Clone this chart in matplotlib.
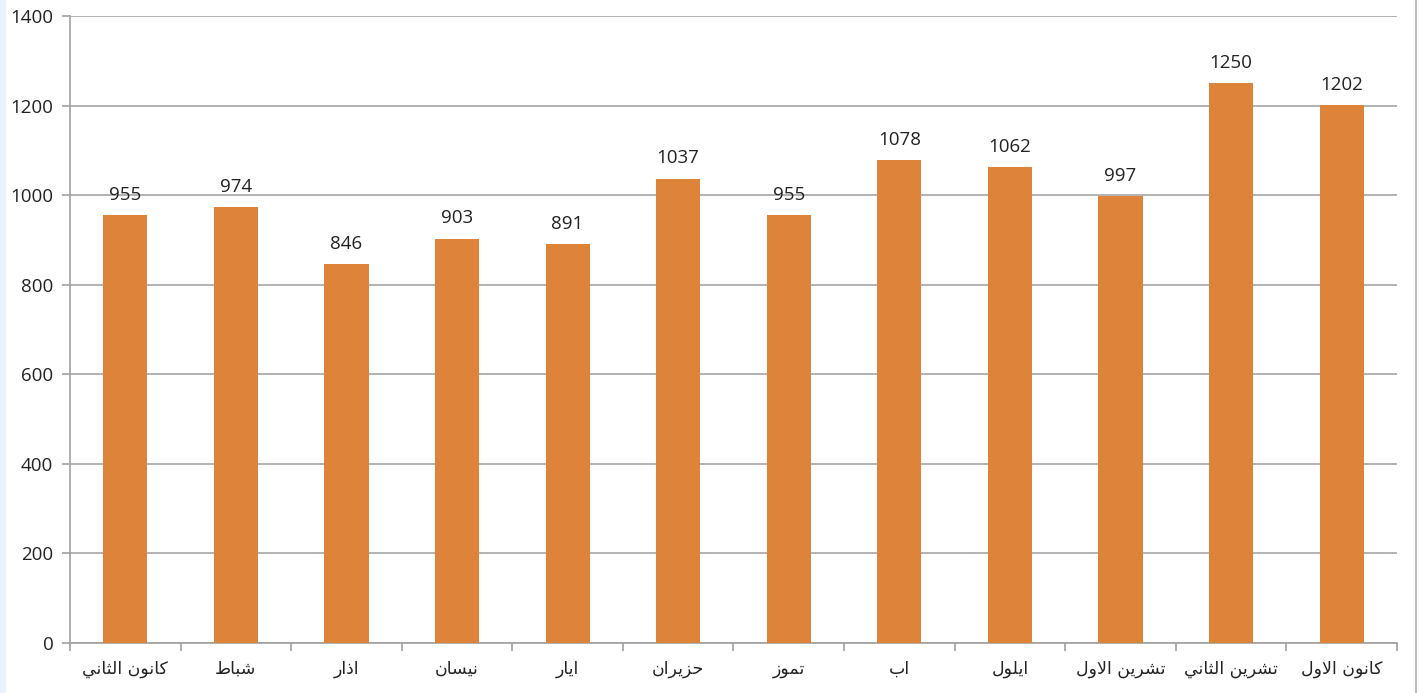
import matplotlib
matplotlib.use("Agg")
import matplotlib.pyplot as plt
import numpy as np

months = ["كانون الثاني", "شباط", "اذار", "نيسان", "ايار", "حزيران",
          "تموز", "اب", "ايلول", "تشرين الاول", "تشرين الثاني", "كانون الاول"]
values = [955, 974, 846, 903, 891, 1037, 955, 1078, 1062, 997, 1250, 1202]
yticks = [0, 200, 400, 600, 800, 1000, 1200, 1400]

# Minimal Arabic shaping (presentation forms) since matplotlib has no shaping
FORMS = {  # iso, final, initial, medial
    'ا': (0xFE8D, 0xFE8E, None, None),
    'ب': (0xFE8F, 0xFE90, 0xFE91, 0xFE92),
    'ت': (0xFE95, 0xFE96, 0xFE97, 0xFE98),
    'ث': (0xFE99, 0xFE9A, 0xFE9B, 0xFE9C),
    'ح': (0xFEA1, 0xFEA2, 0xFEA3, 0xFEA4),
    'ذ': (0xFEAB, 0xFEAC, None, None),
    'ر': (0xFEAD, 0xFEAE, None, None),
    'ز': (0xFEAF, 0xFEB0, None, None),
    'س': (0xFEB1, 0xFEB2, 0xFEB3, 0xFEB4),
    'ش': (0xFEB5, 0xFEB6, 0xFEB7, 0xFEB8),
    'ط': (0xFEC1, 0xFEC2, 0xFEC3, 0xFEC4),
    'ك': (0xFED9, 0xFEDA, 0xFEDB, 0xFEDC),
    'ل': (0xFEDD, 0xFEDE, 0xFEDF, 0xFEE0),
    'م': (0xFEE1, 0xFEE2, 0xFEE3, 0xFEE4),
    'ن': (0xFEE5, 0xFEE6, 0xFEE7, 0xFEE8),
    'و': (0xFEED, 0xFEEE, None, None),
    'ي': (0xFEF1, 0xFEF2, 0xFEF3, 0xFEF4),
}


def dual(c):
    return c in FORMS and FORMS[c][2] is not None


def shape(text):
    chars = []
    i = 0
    while i < len(text):
        if text[i] == 'ل' and i + 1 < len(text) and text[i + 1] == 'ا':
            chars.append('LA')
            i += 2
        else:
            chars.append(text[i])
            i += 1
    out = []
    for j, c in enumerate(chars):
        prev = chars[j - 1] if j > 0 else None
        nxt = chars[j + 1] if j + 1 < len(chars) else None
        join_prev = prev is not None and dual(prev)
        if c == 'LA':
            out.append(chr(0xFEFC if join_prev else 0xFEFB))
            continue
        if c not in FORMS:
            out.append(c)
            continue
        join_next = dual(c) and nxt is not None and (nxt in FORMS or nxt == 'LA')
        iso, fin, ini, med = FORMS[c]
        if join_prev and join_next:
            out.append(chr(med))
        elif join_prev:
            out.append(chr(fin))
        elif join_next:
            out.append(chr(ini))
        else:
            out.append(chr(iso))
    return ''.join(out)[::-1]


labels = [shape(m) for m in months]

plt.rcParams['font.family'] = ['Open Sans', 'DejaVu Sans']

fig = plt.figure(figsize=(14.22, 6.93), dpi=100)
fig.patch.set_facecolor('white')
fig.patches.append(matplotlib.patches.Rectangle((0, 0), 5 / 1422, 1, transform=fig.transFigure,
                                                color='#e9f2fb', zorder=0))
fig.lines.append(matplotlib.lines.Line2D([1416 / 1422] * 2, [0, 1], transform=fig.transFigure,
                                         color='#b0b0b0', lw=1.2))

ax = fig.add_axes([70 / 1422, 50 / 693, (1397 - 70) / 1422, (643 - 16) / 693])
x = np.arange(len(values))
ax.bar(x, values, width=0.4, color='#dd843a', zorder=3)
for xi, v in zip(x, values):
    ax.annotate(str(v), (xi, v), xytext=(0, 8), textcoords='offset points',
                ha='center', va='bottom', fontsize=13.5, color='#222222')

ax.set_xlim(-0.5, len(values) - 0.5)
ax.set_ylim(0, 1400)
ax.set_yticks(yticks)
ax.set_yticklabels([str(t) for t in yticks], fontsize=13.5, color='#222222')
ax.set_xticks(x)
ax.set_xticklabels(labels, fontsize=12.5, family=['DejaVu Sans'], color='#222222')
ax.set_xticks(np.arange(-0.5, len(values), 1), minor=True)
ax.tick_params(axis='x', which='major', length=0, pad=12)
ax.tick_params(axis='x', which='minor', length=6, color='#a0a0a0', width=1.2)
ax.tick_params(axis='y', length=6, color='#a0a0a0', width=1.2, pad=6)
ax.yaxis.grid(True, color='#a6a6a6', lw=1.2, zorder=0)
ax.set_axisbelow(True)
for s in ['top', 'right']:
    ax.spines[s].set_visible(False)
for s in ['left', 'bottom']:
    ax.spines[s].set_color('#a0a0a0')
    ax.spines[s].set_linewidth(1.2)

fig.savefig('out.png', dpi=100, facecolor='white')
